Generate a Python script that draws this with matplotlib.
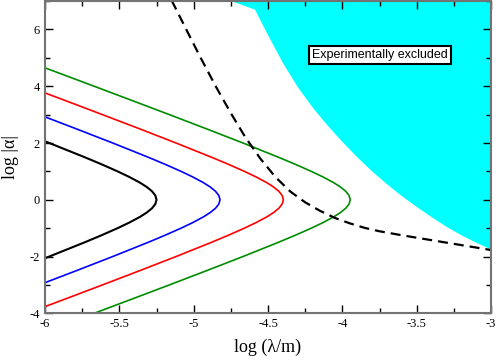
# log|alpha| vs log(lambda/m) limits with experimentally excluded region

import matplotlib.pyplot as plt
import numpy as np

plt.rcParams['axes.unicode_minus'] = False

# the four limit curves share one shape, shifted in x:
# |y| and distance of the curve to the left of its tip
shape_y = [0.0, 0.15, 0.3, 0.45, 0.6, 0.8, 1.0, 1.25, 1.5, 2.0, 2.5, 3.0,
           3.5, 4.0, 4.7]
shape_dx = [0.0, 0.0078, 0.0304, 0.0656, 0.1105, 0.1817, 0.2616, 0.3697,
            0.4836, 0.7216, 0.9672, 1.2169, 1.4690, 1.7227, 2.0795]

# x of each curve's tip (at y = 0)
tip_x = [-5.25, -4.823, -4.397, -3.947]
curve_colors = ['black', '#0000ff', '#ff0000', '#008c00']

# dashed bound
dash_x = [-5.148, -5.05, -4.95, -4.85, -4.75, -4.65, -4.55, -4.45, -4.35,
          -4.25, -4.15, -4.05, -3.95, -3.85, -3.75, -3.6, -3.45, -3.3,
          -3.15, -3.0]
dash_y = [7.02, 6.0, 4.97, 3.98, 3.05, 2.18, 1.44, 0.80, 0.29, -0.09, -0.39,
          -0.64, -0.83, -0.99, -1.11, -1.25, -1.38, -1.51, -1.64, -1.77]

# edge of the excluded region
excl_x = [-4.749, -4.588, -4.5, -4.4, -4.3, -4.2, -4.1, -4.0, -3.9, -3.8,
          -3.7, -3.6, -3.5, -3.4, -3.3, -3.2, -3.1, -3.0]
excl_y = [7.0, 6.7, 5.80, 4.82, 3.97, 3.25, 2.62, 2.04, 1.50, 1.00, 0.55,
          0.13, -0.25, -0.61, -0.95, -1.25, -1.51, -1.75]

xmin, xmax = -6, -3
ymin, ymax = -4, 7

fig = plt.figure(figsize=(4.98, 3.6), dpi=100)
ax = fig.add_axes([0.0904, 0.1297, 0.8956, 0.8673])

# excluded region (closed through the top right corner)
ax.fill(excl_x + [xmax], excl_y + [ymax], color='#00ffff', lw=0, zorder=1)

sy = np.array(shape_y)
sdx = np.array(shape_dx)
for tip, c in zip(tip_x, curve_colors):
    xs = tip - np.concatenate([sdx[::-1], sdx[1:]])
    ys = np.concatenate([sy[::-1], -sy[1:]])
    ax.plot(xs, ys, color=c, lw=1.5 if c == 'black' else 1.2, zorder=3,
            solid_joinstyle='round')

ax.plot(dash_x, dash_y, color='black', lw=1.6, dashes=(4.5, 2.7), zorder=4)

ax.text(-3.749, 5.09, 'Experimentally excluded', family='Liberation Sans',
        fontsize=9, ha='center', va='center', zorder=5,
        bbox=dict(boxstyle='square,pad=0.25', fc='white', ec='black', lw=1.5))

ax.set_xlim(xmin, xmax)
ax.set_ylim(ymin, ymax)
ax.set_xticks(np.arange(-6, -2.9, 0.5))
ax.set_xticks(np.arange(-6, -2.9, 0.25), minor=True)
ax.set_yticks(np.arange(-4, 7.1, 2))
ax.set_yticks(np.arange(-4, 7.1, 1), minor=True)
ax.set_xticklabels(['-6', '-5.5', '-5', '-4.5', '-4', '-3.5', '-3'])
ax.tick_params(which='both', direction='in', top=True, right=True,
               labelsize=9, width=1.0, color='black')
ax.tick_params(which='major', length=6)
ax.tick_params(which='minor', length=3.5)
for lab in ax.get_xticklabels() + ax.get_yticklabels():
    lab.set_family('Liberation Serif')
for s in ax.spines.values():
    s.set_color('0.45')
    s.set_linewidth(1.5)
    s.set_zorder(6)

ax.set_xlabel('log (λ/m)', family='Liberation Serif', fontsize=13, labelpad=6)
ax.set_ylabel('log |α|', family='Liberation Serif', fontsize=13, labelpad=8)

plt.savefig('out.png', dpi=100)
plt.close()
